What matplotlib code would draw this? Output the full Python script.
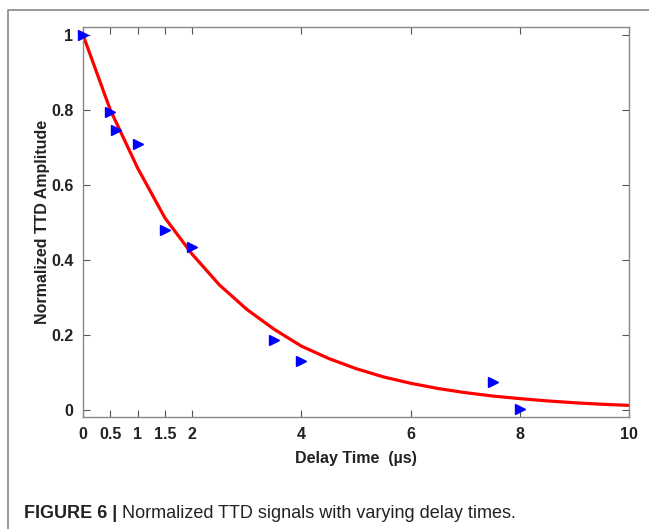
import numpy as np
import matplotlib.pyplot as plt
from matplotlib.lines import Line2D

# Measured TTD amplitudes (markers)
delay = [0, 0.5, 0.6, 1.0, 1.5, 2.0, 3.5, 4.0, 7.5, 8.0]
amp = [1.0, 0.795, 0.745, 0.71, 0.48, 0.435, 0.187, 0.131, 0.075, 0.003]

# Fitted curve (red)
fit_t = [0, 0.5, 1, 1.5, 2, 2.5, 3, 3.5, 4, 4.5, 5, 5.5, 6, 6.5, 7,
         7.5, 8, 8.5, 9, 9.5, 10]
fit_a = [1.0, 0.80, 0.645, 0.512, 0.415, 0.333, 0.268, 0.215, 0.170,
         0.137, 0.110, 0.088, 0.071, 0.057, 0.046, 0.037, 0.030,
         0.024, 0.019, 0.015, 0.012]

xticks = [0, 0.5, 1, 1.5, 2, 4, 6, 8, 10]
xticklabels = ['0', '0.5', '1', '1.5', '2', '4', '6', '8', '10']
yticks = [0, 0.2, 0.4, 0.6, 0.8, 1]
yticklabels = ['0', '0.2', '0.4', '0.6', '0.8', '1']

plt.rcParams['font.family'] = ['Liberation Sans', 'DejaVu Sans']

fig = plt.figure(figsize=(6.49, 5.29), dpi=100)
ax = fig.add_axes([83 / 649, 1 - 417 / 529, 546 / 649, 390 / 529])

ax.plot(fit_t, fit_a, color='red', lw=2.3, zorder=2)
ax.plot(delay, amp, linestyle='none', marker='>', color='blue',
        markersize=7.5, clip_on=False, zorder=3)

ax.set_xlim(0, 10)
ax.set_ylim(-0.019, 1.021)
ax.set_xticks(xticks)
ax.set_xticklabels(xticklabels)
ax.set_yticks(yticks)
ax.set_yticklabels(yticklabels)
ax.tick_params(direction='in', length=5, width=0.8, color='#555555',
               top=True, right=True, labelsize=11.5, labelcolor='#222222',
               pad=7)
for lbl in ax.get_xticklabels() + ax.get_yticklabels():
    lbl.set_fontweight('bold')
for s in ax.spines.values():
    s.set_color('#888888')
    s.set_linewidth(1.0)

ax.set_xlabel('Delay Time  (µs)', fontsize=11.5, fontweight='bold',
              color='#222222', labelpad=7)
ax.set_ylabel('Normalized TTD Amplitude', fontsize=11.5, fontweight='bold',
              color='#222222', labelpad=1)

# page frame around the figure
fx = 8 / 649
fy = 1 - 10 / 529
fig.add_artist(Line2D([fx, fx, 1.0], [0.0, fy, fy], transform=fig.transFigure,
                      color='#888888', lw=1.2))

# caption
t1 = fig.text(24 / 649, 1 - 513 / 529, 'FIGURE 6 |', fontsize=13,
              fontweight='bold', va='center', color='#222222')
ax.annotate(' Normalized TTD signals with varying delay times.',
            xy=(1, 0.5), xycoords=t1, va='center', ha='left',
            fontsize=13, color='#222222', annotation_clip=False)

fig.savefig('out.png', dpi=100)
